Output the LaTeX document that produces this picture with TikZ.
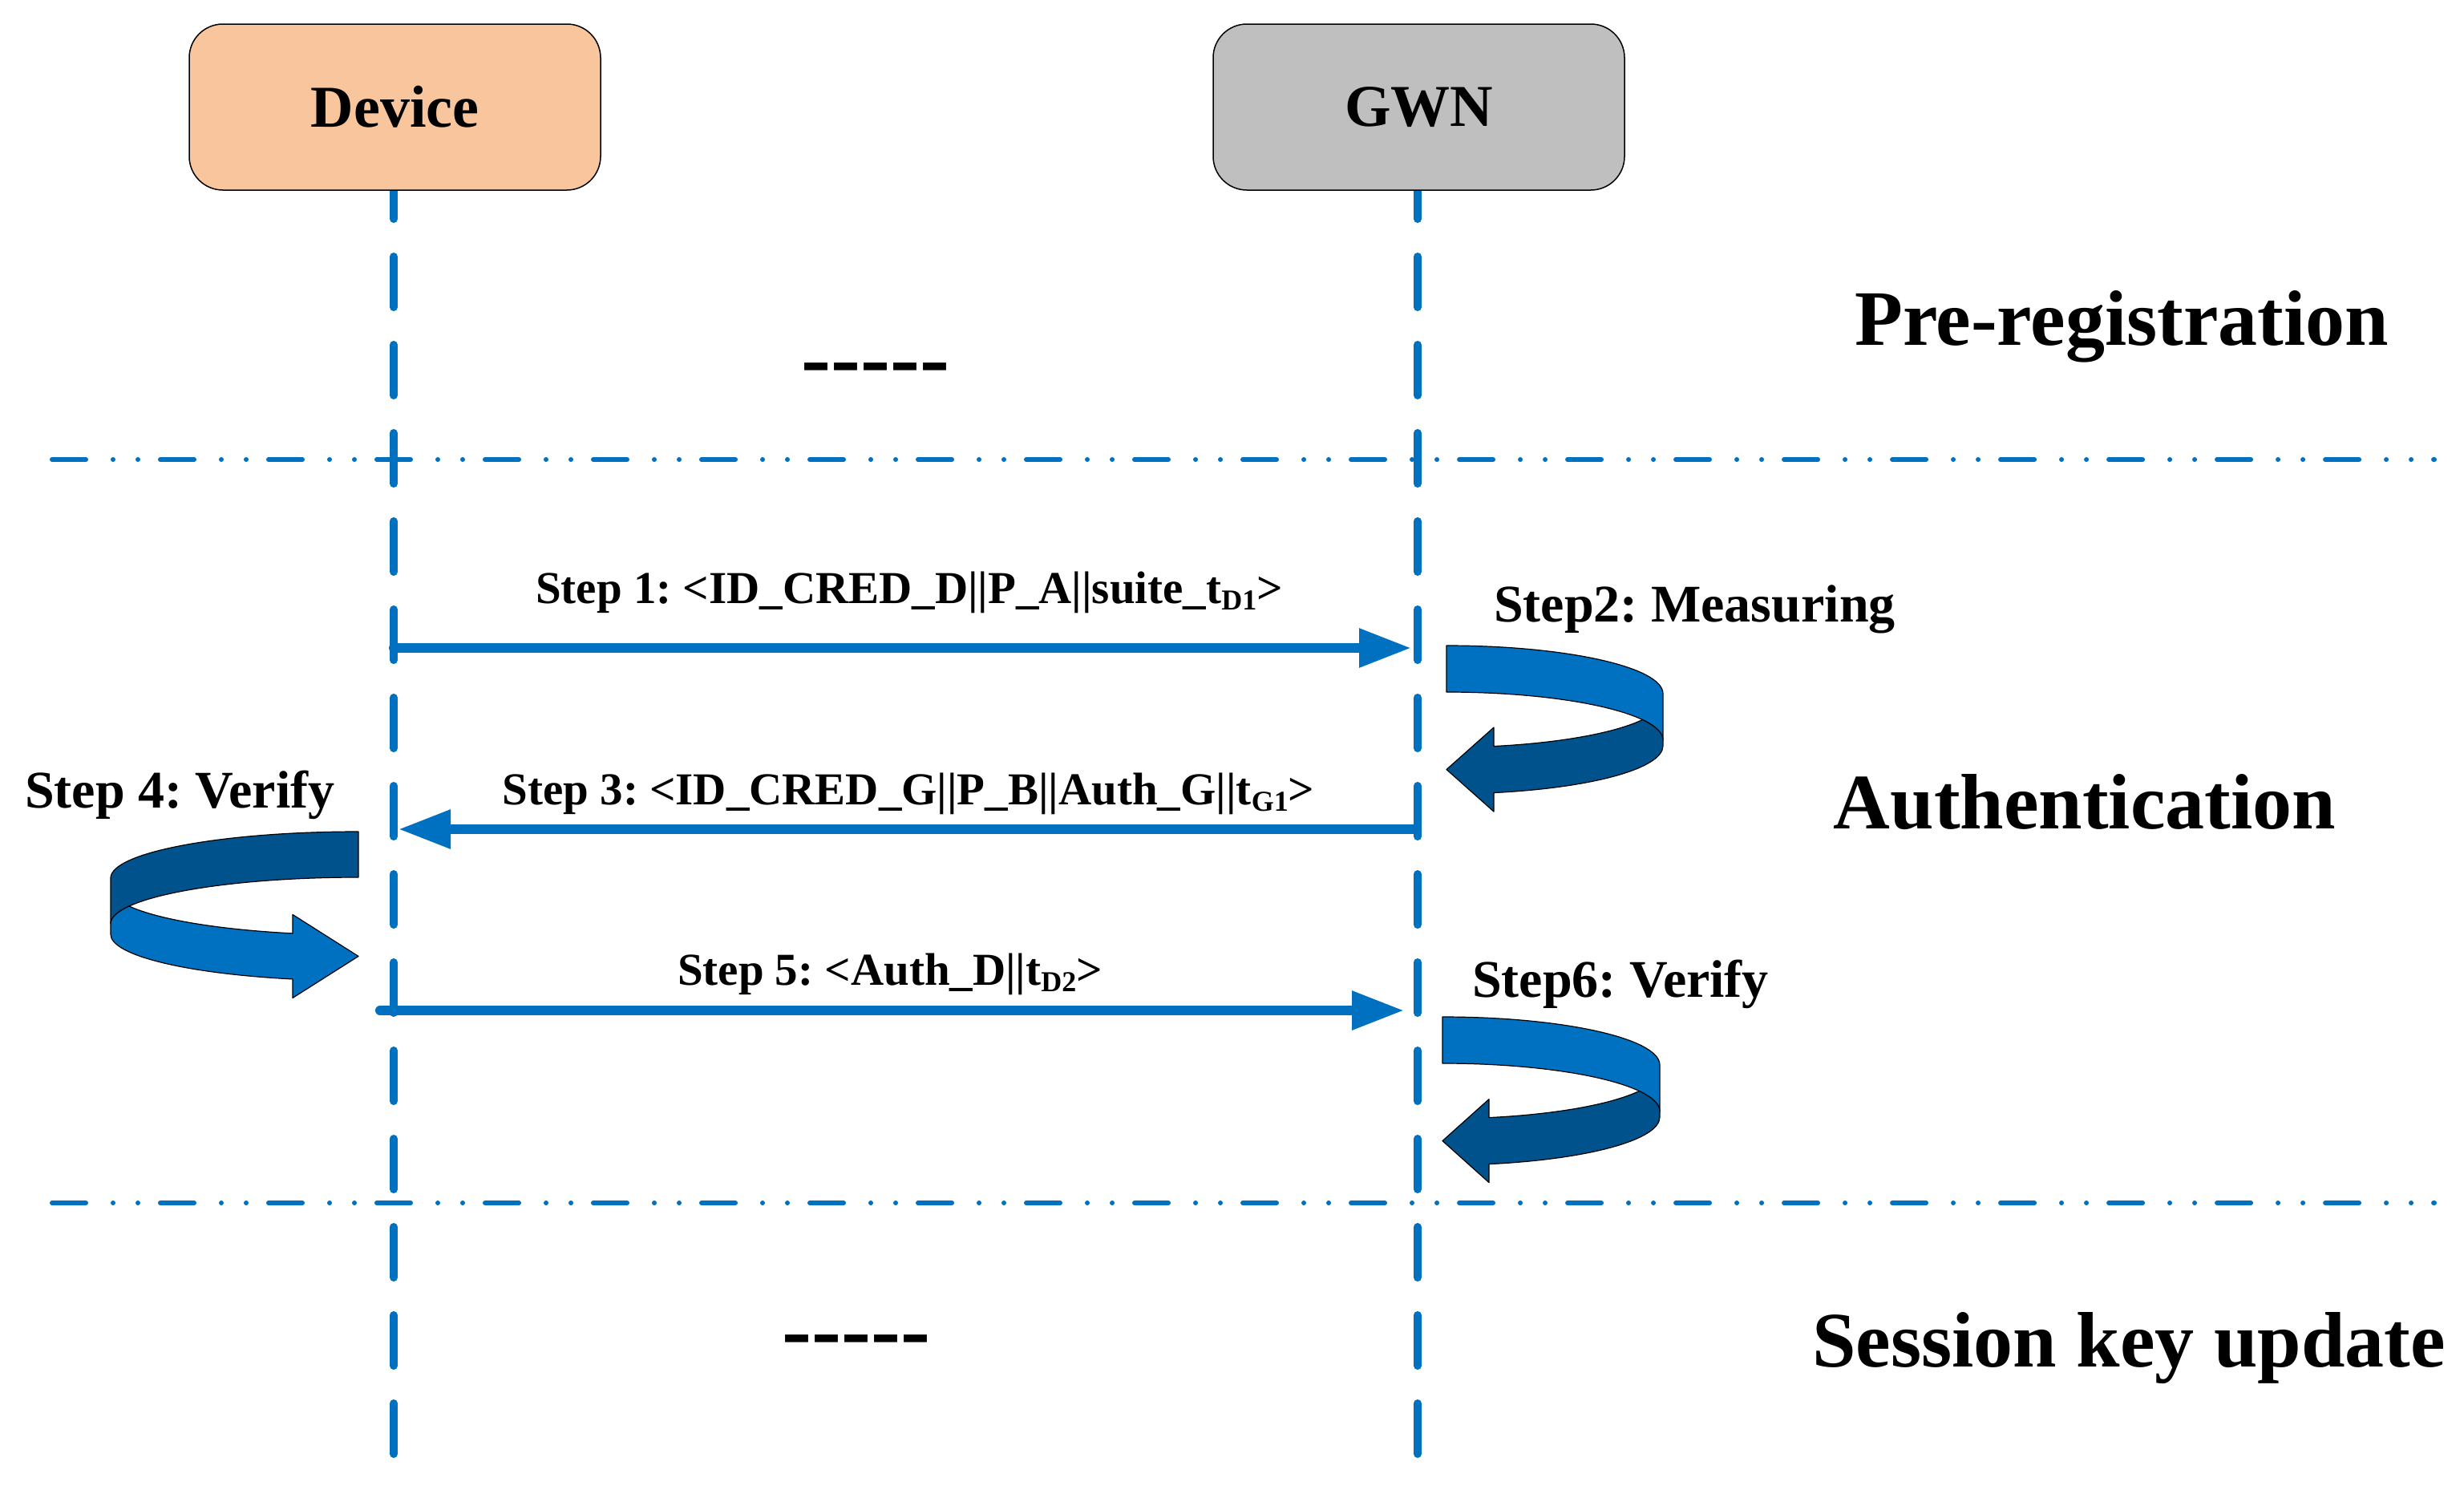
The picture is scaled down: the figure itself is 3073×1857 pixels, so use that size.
\documentclass[tikz,border=0pt]{standalone}
\usepackage{fontspec}
\setmainfont{Liberation Serif}
\usetikzlibrary{arrows.meta}
\frenchspacing
\definecolor{ublue}{HTML}{0070C0}
\definecolor{udark}{HTML}{00528C}
\definecolor{devfill}{HTML}{F8C59C}
\definecolor{gwnfill}{HTML}{BFBFBF}
\newcommand{\subtxt}[1]{\raisebox{-8bp}{\fontsize{36bp}{38bp}\selectfont #1}}
% U-turn ribbon arrow in local coordinates (origin at left/top-band end, y down)
% #1 a, #2 b, #3 t, #4 h, #5 shaft end, #6 head half height, #7 band colour, #8 arrow colour
\newcommand{\uarrowshape}[8]{%
  \pgfmathsetmacro\UAsig{(2*#3-#4)/(2*#2)}%
  \pgfmathsetmacro\UAthi{asin(\UAsig)}%
  \pgfmathsetmacro\UApx{#1*cos(\UAthi)}%
  \pgfmathsetmacro\UApy{#3-#2*\UAsig}%
  \pgfmathsetmacro\UAphe{acos(#5/#1)}%
  \pgfmathsetmacro\UAsy{#2*sin(\UAphe)}%
  \pgfmathsetmacro\UAmid{#4-#3/2+\UAsy}%
  \filldraw[fill=#7, draw=black, line width=1.2bp, line join=round]
    (0,-#2) arc[start angle=-90, end angle=0, x radius=#1, y radius=#2]
    -- (#1,#3) arc[start angle=0, end angle=-90, x radius=#1, y radius=#2] -- cycle;
  \filldraw[fill=#8, draw=black, line width=1.2bp, line join=round]
    (\UApx,\UApy) arc[start angle=-\UAthi, end angle=0, x radius=#1, y radius=#2]
    -- (#1,#4) arc[start angle=0, end angle=\UAphe, x radius=#1, y radius=#2]
    -- (#5,\UAmid+#6) -- (0,\UAmid) -- (#5,\UAmid-#6)
    -- (#5,#4-#3+\UAsy) arc[start angle=\UAphe, end angle=\UAthi, x radius=#1, y radius=#2]
    -- cycle;
}
\tikzset{
  lifeline/.style={ublue, line width=10bp, line cap=round, dash pattern=on 63bp off 47bp},
  phaseline/.style={ublue, line width=6bp, line cap=round,
    dash pattern=on 42bp off 34bp on 0bp off 31bp on 0bp off 28bp},
  msg/.style={ublue, line width=12bp, -{Triangle[length=65bp,width=46bp]}},
  entity/.style={draw=black, line width=1.5bp, rounded corners=42bp,
    minimum width=513bp, minimum height=207bp, inner sep=0pt,
    font=\fontsize{74bp}{80bp}\selectfont\bfseries},
  phase/.style={inner sep=0pt, anchor=base, font=\fontsize{98bp}{110bp}\selectfont\bfseries},
  steplbl/.style={inner sep=0pt, anchor=base west, font=\fontsize{66bp}{72bp}\selectfont\bfseries},
  msglbl/.style={inner sep=0pt, anchor=base, font=\fontsize{57bp}{62bp}\selectfont\bfseries},
  ellip/.style={inner sep=0pt, anchor=base west, font=\fontsize{111bp}{120bp}\selectfont\bfseries},
}
\begin{document}
\begin{tikzpicture}[x=1bp, y=-1bp]
\useasboundingbox (0,0) rectangle (3073,1857);
\fill[white] (0,0) rectangle (3073,1857);

% coordinates
\coordinate (devtop) at (491,210);
\coordinate (devbot) at (491,1813);
\coordinate (gwntop) at (1768,210);
\coordinate (gwnbot) at (1768,1813);
\coordinate (ph1l) at (65,573);
\coordinate (ph1r) at (3036,573);
\coordinate (ph2l) at (65,1500);
\coordinate (ph2r) at (3036,1500);

% phase separators
\draw[phaseline] (ph1l) -- (ph1r);
\draw[phaseline] (ph2l) -- (ph2r);

% lifelines
\draw[lifeline] (devtop) -- (devbot);
\draw[lifeline] (gwntop) -- (gwnbot);

% entities
\node[entity, fill=devfill] (dev) at (492.5,133.5) {Device};
\node[entity, fill=gwnfill] (gwn) at (1769.5,133.5) {GWN};

% phase titles
\node[phase] (pre) at (2646,430) {Pre-registration};
\node[phase] (auth) at (2600,1033) {Authentication};
\node[phase] (sku) at (2655,1704) {Session key update};

% ellipses
\node[ellip] (dots1) at (999,483) {-{}-{}-{}-{}-};
\node[ellip] (dots2) at (975,1695) {-{}-{}-{}-{}-};

% messages
\coordinate (m1s) at (491,808);
\coordinate (m1e) at (1760,808);
\coordinate (m3s) at (1768,1034);
\coordinate (m3e) at (497,1034);
\coordinate (m5s) at (474,1260);
\coordinate (m5e) at (1751,1260);
\draw[msg, line cap=round] (m1s) -- (m1e);
\draw[msg] (m3s) -- (m3e);
\draw[msg, line cap=round] (m5s) -- (m5e);

\node[msglbl] (l1) at (1134,752) {Step 1: <ID\_CRED\_D||P\_A||suite\_t\subtxt{D1}>};
\node[msglbl] (l3) at (1133,1003) {Step 3: <ID\_CRED\_G||P\_B||Auth\_G||t\subtxt{G1}>};
\node[msglbl] (l5) at (1110,1228) {Step 5: <Auth\_D||t\subtxt{D2}>};

% local step labels
\node[steplbl] (s2) at (1863,775) {Step2: Measuring};
\node[steplbl] (s4) at (31,1007) {Step 4: Verify};
\node[steplbl] (s6) at (1836,1243) {Step6: Verify};

% U-turn arrows
\begin{scope}[shift={(1804,865)}]
  \uarrowshape{270}{60}{58}{65}{59}{52.5}{ublue}{udark}
\end{scope}
\begin{scope}[shift={(1799,1328)}]
  \uarrowshape{271}{60}{58}{65}{58}{52}{ublue}{udark}
\end{scope}
\begin{scope}[shift={(447,1095)}, xscale=-1]
  \uarrowshape{309}{58}{57}{70}{82}{52}{udark}{ublue}
\end{scope}
\end{tikzpicture}
\end{document}
